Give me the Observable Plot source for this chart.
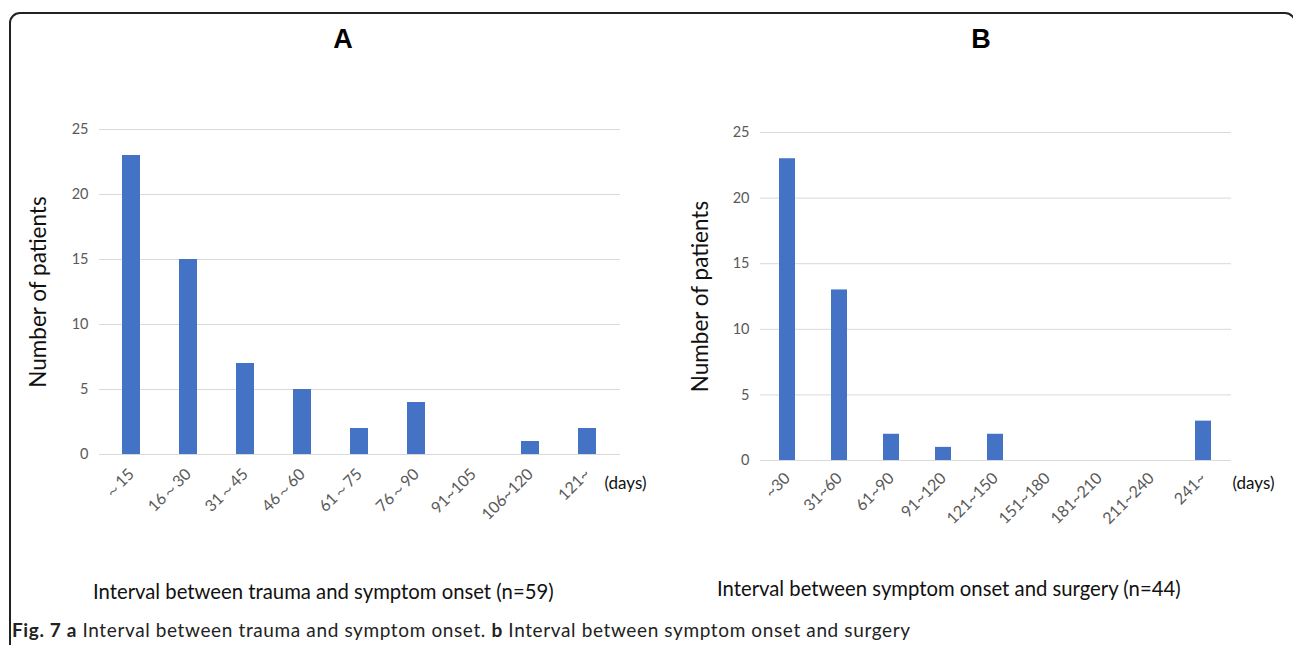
<!DOCTYPE html>
<html>
<head>
<meta charset="utf-8">
<script src="https://cdn.jsdelivr.net/npm/d3@7"></script>
<script src="https://cdn.jsdelivr.net/npm/@observablehq/plot@0.6"></script>
<style>
  html, body { margin: 0; padding: 0; background: #fff; }
  body { width: 1293px; height: 645px; position: relative; overflow: hidden; font-family: Lato, "Open Sans", sans-serif; }
  .frame { position: absolute; left: 9px; top: 12px; width: 1287px; height: 700px; border: 2px solid #222; border-radius: 11px; box-sizing: border-box; }
  .panel { position: absolute; }
  .panel svg { overflow: visible; }
  .ptitle { position: absolute; font-family: "Liberation Sans", Arial, sans-serif; font-weight: bold; font-size: 27px; color: #000; transform: translateX(-50%); }
  .xtitle { position: absolute; font-size: 20.3px; color: #111; white-space: nowrap; }
  .caption { position: absolute; left: 12px; top: 618px; font-size: 19px; letter-spacing: 0.62px; color: #222; white-space: nowrap; font-family: Lato, sans-serif; }
</style>
</head>
<body>
<div class="frame"></div>
<div class="ptitle" style="left:343px; top:24px;">A</div>
<div class="ptitle" style="left:981px; top:24px;">B</div>
<div id="chartA" class="panel" style="left:20px; top:100px;"></div>
<div id="chartB" class="panel" style="left:680px; top:100px;"></div>
<div class="xtitle" style="left:93px; top:579px;">Interval between trauma and symptom onset (n=59)</div>
<div class="xtitle" style="left:717px; top:576px;">Interval between symptom onset and surgery (n=44)</div>
<div class="caption"><b>Fig. 7 a</b> Interval between trauma and symptom onset. <b>b</b> Interval between symptom onset and surgery</div>
<script>
// Panel A data
const categoriesA = ["～15", "16～30", "31～45", "46～60", "61～75", "76～90", "91~105", "106~120", "121~"];
const valuesA = [23, 15, 7, 5, 2, 4, 0, 1, 2];
// Panel B data
const categoriesB = ["~30", "31~60", "61~90", "91~120", "121~150", "151~180", "181~210", "211~240", "241~"];
const valuesB = [23, 13, 2, 1, 2, 0, 0, 0, 3];
const yTicks = [0, 5, 10, 15, 20, 25];
const yLabel = "Number of patients";
const unitLabel = "(days)";

function makeChart(cats, vals, opts) {
  const data = cats.map((c, i) => ({cat: c, val: vals[i]}));
  return Plot.plot({
    width: opts.width,
    height: opts.height,
    marginLeft: opts.marginLeft,
    marginRight: opts.width - opts.marginLeft - opts.plotW,
    marginTop: opts.marginTop,
    marginBottom: 80,
    style: {fontFamily: "Lato, 'Open Sans', sans-serif", fontSize: "14.5px", color: "#595959", background: "transparent", overflow: "visible"},
    x: {domain: cats, paddingInner: opts.pi, paddingOuter: opts.po, label: null},
    y: {domain: [0, 25], ticks: yTicks, label: null},
    marks: [
      Plot.gridY(yTicks, {stroke: "#d9d9d9", strokeOpacity: 1, strokeWidth: 1}),
      Plot.barY(data, {x: "cat", y: "val", fill: "#4472C4"}),
      Plot.axisY(yTicks, {tickSize: 0, tickPadding: 11, fontSize: 14.5, fill: "#595959", label: null}),
      Plot.axisX({tickSize: 0, tickPadding: opts.tickPad, tickRotate: -45, fontSize: 16, fill: "#595959", label: null, dx: 0}),
      Plot.text([yLabel], {frameAnchor: "left", textAnchor: "middle", rotate: -90, dx: opts.ylabDx, fontSize: 22.5, fill: "#111"}),
      Plot.text([unitLabel], {frameAnchor: "bottom-right", textAnchor: "start", dx: opts.daysDx, dy: opts.daysDy, fontSize: 17, fill: "#111"})
    ]
  });
}

document.getElementById("chartA").append(makeChart(categoriesA, valuesA, {
  width: 660, marginLeft: 79, plotW: 521, marginTop: 29, height: 434, pi: 0.68, po: 0.38,
  ylabDx: -61, daysDx: -16, daysDy: 34, tickPad: 17
}));
document.getElementById("chartB").append(makeChart(categoriesB, valuesB, {
  width: 613, marginLeft: 80, plotW: 471, marginTop: 32, height: 440, pi: 0.683, po: 0.34,
  ylabDx: -60, daysDx: 1, daysDy: 28, tickPad: 15
}));
</script>
</body>
</html>
